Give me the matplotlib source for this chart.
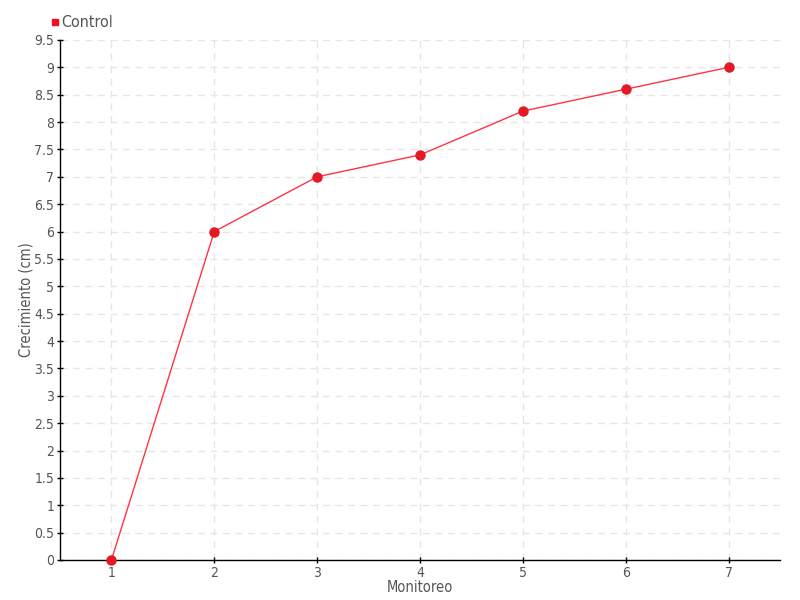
import matplotlib
matplotlib.use("Agg")
import matplotlib.pyplot as plt
from matplotlib.lines import Line2D
import numpy as np

monitoreo = [1, 2, 3, 4, 5, 6, 7]
control = [0, 6, 7, 7.4, 8.2, 8.6, 9]
yticks = np.arange(0, 9.51, 0.5)
ytick_labels = ["0", "0.5", "1", "1.5", "2", "2.5", "3", "3.5", "4", "4.5", "5",
                "5.5", "6", "6.5", "7", "7.5", "8", "8.5", "9", "9.5"]

plt.rcParams['font.family'] = ['DejaVu Sans']
plt.rcParams['font.stretch'] = 'condensed'

fig = plt.figure(figsize=(8, 6), dpi=100)
ax = fig.add_axes([0.075, 0.0667, 0.9, 0.8667])

ax.plot(monitoreo, control, color='#ff3344', lw=1, zorder=3)
ax.plot(monitoreo, control, 'o', color='#e31a24', ms=6.5, zorder=4, clip_on=False)

ax.set_xlim(0.5, 7.5)
ax.set_ylim(0, 9.5)
ax.set_xticks(monitoreo)
ax.set_yticks(yticks)
ax.set_yticklabels(ytick_labels)
ax.grid(True, color='#e6e6e6', linestyle=(0, (5, 4)), lw=1)
ax.set_axisbelow(True)
for s in ['top', 'right']:
    ax.spines[s].set_visible(False)
for s in ['left', 'bottom']:
    ax.spines[s].set_color('black')
    ax.spines[s].set_linewidth(1)
ax.tick_params(colors='#555555', labelsize=10, length=4, direction='inout', width=1, pad=2)
ax.tick_params(axis='both', color='black')
ax.set_xlabel('Monitoreo', fontsize=10.5, color='#555555', labelpad=0)
ax.set_ylabel('Crecimiento (cm)', fontsize=10.5, color='#555555')
ax.yaxis.set_label_coords(-0.037, 0.5)

handle = Line2D([], [], marker='s', color='#ee1122', linestyle='None', ms=5)
fig.legend([handle], ['Control'], loc='upper left', bbox_to_anchor=(0.04, 1.0),
           frameon=False, fontsize=11.5, handletextpad=-0.1, labelcolor='#555555',
           handlelength=1.0, borderaxespad=0.55)

fig.savefig('out.png', dpi=100)
